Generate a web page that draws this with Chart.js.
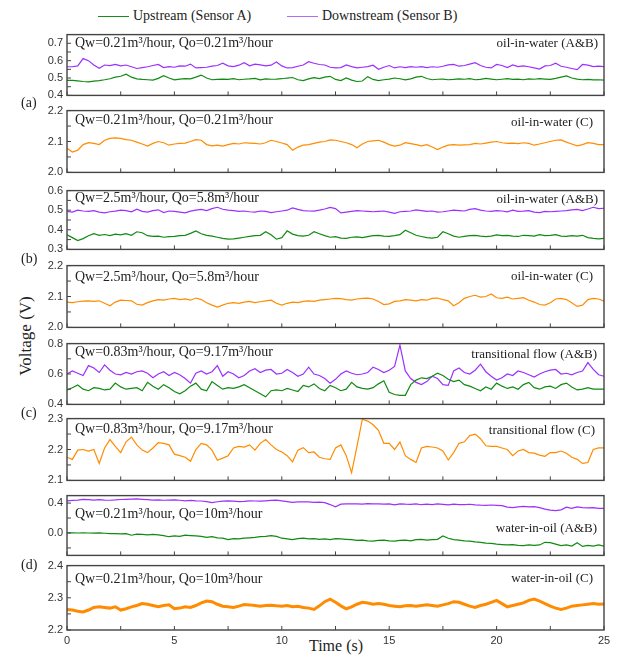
<!DOCTYPE html>
<html>
<head>
<meta charset="utf-8">
<script src="https://cdn.jsdelivr.net/npm/chart.js@4.4.1/dist/chart.umd.min.js"></script>
<style>
  body { margin: 0; background: #fff; }
  #wrap { position: relative; width: 617px; height: 655px; overflow: hidden;
          font-family: "Liberation Serif", "Times New Roman", serif; color: #222; }
  #wrap canvas { position: absolute; left: 0; }
  .txt { position: absolute; white-space: nowrap; line-height: 1; transform: translateY(-50%); }
  .key { position: absolute; height: 0; border-top: 1.5px solid; }
</style>
</head>
<body>
<div id="wrap">
  <div class="key" style="left:98px;top:16px;width:31px;border-color:#1a8c1a"></div>
  <div class="txt" style="left:133px;top:16px;font-size:14px">Upstream (Sensor A)</div>
  <div class="key" style="left:287px;top:16px;width:31px;border-color:#b06cff"></div>
  <div class="txt" style="left:322px;top:16px;font-size:14px">Downstream (Sensor B)</div>
  <div class="txt" style="left:25px;top:336px;font-size:17px;transform:translate(-50%,-50%) rotate(-90deg)">Voltage (V)</div>
  <div class="txt" style="left:336px;top:646px;font-size:16px;transform:translate(-50%,-50%)">Time (s)</div>
</div>
<script>
// ---- data (sampled every 0.25 s, 0..25 s) ----
const TIME = Array.from({ length: 101 }, (_, i) => i * 0.25);

// (a) oil-in-water, Qw=0.21, Qo=0.21
const upA_a = [
  .487,.486,.484,.48,.478,.482,.485,.49,.496,.505,
  .51,.522,.505,.495,.492,.49,.488,.498,.513,.50,
  .49,.494,.497,.495,.505,.517,.50,.49,.492,.494,
  .492,.496,.49,.493,.495,.498,.49,.495,.493,.494,
  .496,.50,.503,.49,.485,.495,.502,.497,.505,.51,
  .492,.485,.50,.488,.48,.483,.508,.492,.485,.49,
  .494,.50,.496,.49,.495,.505,.51,.497,.49,.493,
  .494,.49,.492,.495,.493,.496,.49,.492,.498,.494,
  .49,.493,.496,.492,.494,.49,.495,.493,.496,.494,
  .492,.498,.505,.512,.50,.494,.49,.492,.489,.49,
  .488];
const dnB_a = [
  .565,.565,.57,.612,.60,.575,.556,.575,.572,.578,
  .57,.575,.565,.555,.56,.565,.572,.578,.56,.566,
  .562,.57,.568,.58,.558,.56,.562,.568,.572,.585,
  .57,.566,.574,.588,.57,.58,.576,.57,.574,.592,
  .57,.558,.56,.568,.575,.594,.585,.578,.575,.562,
  .558,.56,.575,.566,.558,.562,.566,.574,.55,.562,
  .572,.558,.565,.56,.566,.562,.566,.56,.565,.562,
  .568,.576,.578,.568,.572,.58,.588,.572,.562,.558,
  .578,.572,.56,.575,.566,.57,.565,.558,.552,.57,
  .572,.585,.568,.562,.555,.548,.578,.574,.566,.568,
  .566];
const sensC_a = [
  2.078,2.066,2.072,2.09,2.096,2.094,2.09,2.104,2.11,2.112,
  2.11,2.106,2.104,2.098,2.092,2.085,2.094,2.1,2.096,2.088,
  2.092,2.094,2.095,2.1,2.106,2.104,2.09,2.086,2.088,2.085,
  2.09,2.094,2.092,2.096,2.095,2.094,2.092,2.096,2.104,2.1,
  2.095,2.09,2.072,2.082,2.088,2.09,2.094,2.098,2.1,2.105,
  2.104,2.1,2.096,2.09,2.08,2.092,2.1,2.102,2.104,2.098,
  2.09,2.085,2.088,2.096,2.093,2.09,2.086,2.09,2.082,2.074,
  2.082,2.088,2.09,2.088,2.089,2.09,2.094,2.092,2.095,2.098,
  2.1,2.096,2.094,2.095,2.093,2.096,2.094,2.088,2.092,2.096,
  2.1,2.104,2.105,2.098,2.092,2.086,2.09,2.096,2.094,2.09,
  2.09];

// (b) oil-in-water, Qw=2.5, Qo=5.8
const upA_b = [
  .375,.36,.345,.355,.37,.38,.372,.376,.37,.378,
  .374,.38,.372,.39,.385,.37,.366,.368,.362,.365,
  .366,.37,.372,.382,.394,.38,.372,.368,.362,.356,
  .352,.354,.358,.362,.366,.37,.372,.39,.375,.352,
  .36,.395,.378,.37,.368,.372,.39,.38,.37,.362,
  .365,.358,.356,.362,.364,.36,.365,.37,.372,.368,
  .366,.37,.375,.398,.385,.372,.366,.36,.358,.362,
  .39,.38,.368,.362,.366,.37,.372,.368,.365,.368,
  .374,.37,.372,.368,.366,.372,.37,.368,.375,.37,
  .372,.375,.368,.366,.37,.368,.372,.36,.356,.354,
  .356];
const dnB_b = [
  .494,.49,.50,.496,.494,.498,.49,.486,.492,.495,
  .50,.498,.492,.505,.494,.49,.498,.502,.488,.496,
  .494,.49,.486,.495,.50,.504,.498,.508,.515,.505,
  .50,.498,.494,.496,.492,.49,.496,.494,.488,.492,
  .496,.50,.512,.504,.498,.496,.495,.50,.506,.514,
  .508,.486,.49,.494,.498,.496,.494,.492,.494,.496,
  .49,.484,.492,.494,.496,.502,.498,.494,.496,.49,
  .492,.496,.50,.498,.496,.504,.508,.50,.496,.494,
  .498,.496,.492,.50,.494,.495,.498,.49,.488,.494,
  .492,.494,.496,.498,.502,.504,.498,.506,.515,.508,
  .51];
const sensC_b = [
  2.082,2.08,2.083,2.085,2.086,2.084,2.086,2.078,2.07,2.082,
  2.088,2.087,2.086,2.075,2.072,2.08,2.086,2.09,2.088,2.092,
  2.094,2.09,2.092,2.088,2.095,2.09,2.08,2.072,2.066,2.072,
  2.078,2.08,2.078,2.082,2.084,2.08,2.083,2.086,2.088,2.078,
  2.072,2.078,2.082,2.08,2.084,2.086,2.084,2.088,2.09,2.092,
  2.094,2.093,2.09,2.088,2.092,2.094,2.095,2.092,2.084,2.074,
  2.076,2.084,2.086,2.09,2.088,2.086,2.09,2.088,2.094,2.095,
  2.09,2.086,2.07,2.08,2.094,2.1,2.104,2.098,2.1,2.108,
  2.096,2.094,2.098,2.092,2.094,2.096,2.088,2.082,2.074,2.072,
  2.08,2.092,2.094,2.09,2.08,2.068,2.072,2.09,2.094,2.092,
  2.085];

// (c) transitional flow, Qw=0.83, Qo=9.17
const upA_c = [
  .495,.51,.528,.50,.49,.51,.505,.495,.50,.54,
  .515,.50,.505,.51,.49,.545,.52,.50,.53,.51,
  .485,.47,.49,.52,.54,.50,.49,.55,.525,.50,
  .51,.505,.515,.53,.51,.49,.47,.45,.49,.495,
  .49,.505,.495,.485,.525,.515,.535,.505,.49,.525,
  .51,.49,.50,.545,.515,.505,.50,.51,.535,.555,
  .48,.465,.46,.46,.53,.56,.575,.57,.585,.605,
  .59,.565,.55,.56,.53,.52,.505,.49,.515,.50,
  .54,.52,.505,.515,.50,.53,.545,.51,.50,.515,
  .52,.505,.53,.54,.515,.495,.50,.51,.50,.50,
  .50];
const dnB_c = [
  .60,.62,.605,.59,.655,.64,.61,.66,.625,.60,
  .595,.61,.60,.615,.62,.605,.575,.60,.615,.59,
  .61,.595,.57,.54,.605,.62,.60,.615,.655,.585,
  .615,.60,.575,.59,.62,.635,.61,.625,.63,.60,
  .605,.63,.61,.585,.60,.645,.60,.59,.57,.54,
  .565,.60,.62,.605,.595,.60,.61,.645,.63,.61,
  .625,.65,.79,.62,.57,.545,.53,.55,.585,.57,
  .53,.525,.62,.64,.61,.60,.625,.665,.615,.585,
  .56,.575,.60,.59,.62,.61,.595,.58,.60,.615,
  .625,.63,.60,.605,.595,.61,.62,.675,.63,.595,
  .585];
const sensC_c = [
  2.175,2.168,2.198,2.2,2.195,2.2,2.155,2.205,2.232,2.21,
  2.19,2.225,2.24,2.215,2.198,2.19,2.205,2.222,2.22,2.215,
  2.185,2.18,2.175,2.162,2.2,2.22,2.215,2.198,2.165,2.172,
  2.18,2.205,2.21,2.208,2.215,2.198,2.22,2.232,2.215,2.2,
  2.192,2.18,2.16,2.198,2.206,2.19,2.192,2.175,2.17,2.168,
  2.205,2.215,2.18,2.125,2.21,2.298,2.292,2.28,2.262,2.22,
  2.22,2.2,2.224,2.18,2.168,2.158,2.205,2.21,2.208,2.205,
  2.195,2.166,2.19,2.22,2.225,2.245,2.25,2.235,2.212,2.21,
  2.21,2.205,2.2,2.18,2.195,2.2,2.19,2.188,2.182,2.178,
  2.19,2.19,2.195,2.188,2.175,2.168,2.155,2.158,2.2,2.205,
  2.205];

// (d) water-in-oil, Qw=0.21, Qo=10
const upA_d = [
  .0,.002,.0,.003,.0,-.002,.0,-.004,-.008,-.01,
  -.012,-.01,-.03,-.015,-.02,-.025,-.018,-.025,-.035,-.05,
  -.04,-.045,-.03,-.035,-.04,-.045,-.06,-.05,-.065,-.07,
  -.09,-.075,-.08,-.07,-.065,-.06,-.05,-.045,-.035,-.045,
  -.07,-.08,-.09,-.075,-.07,-.08,-.075,-.085,-.08,-.09,
  -.075,-.08,-.085,-.09,-.1,-.095,-.105,-.11,-.1,-.095,
  -.105,-.11,-.1,-.095,-.105,-.09,-.085,-.095,-.09,-.085,
  -.04,-.07,-.09,-.095,-.105,-.11,-.12,-.125,-.135,-.14,
  -.15,-.155,-.16,-.155,-.165,-.17,-.16,-.165,-.16,-.125,
  -.13,-.15,-.17,-.16,-.175,-.13,-.18,-.165,-.175,-.16,
  -.175];
const dnB_d = [
  .43,.435,.44,.45,.445,.44,.445,.44,.438,.442,
  .448,.45,.452,.455,.45,.445,.44,.442,.438,.44,
  .442,.438,.43,.435,.43,.428,.42,.405,.418,.425,
  .43,.425,.42,.422,.43,.428,.425,.43,.436,.44,
  .43,.42,.41,.415,.418,.415,.41,.412,.405,.38,
  .35,.385,.39,.388,.39,.385,.392,.39,.388,.385,
  .388,.375,.39,.385,.382,.39,.378,.385,.38,.388,
  .382,.375,.385,.38,.378,.384,.376,.372,.37,.374,
  .37,.365,.345,.34,.35,.355,.35,.352,.34,.32,
  .305,.30,.31,.345,.33,.35,.34,.335,.34,.33,
  .33];
const sensC_d = [
  2.264,2.262,2.258,2.256,2.262,2.27,2.272,2.27,2.268,2.272,
  2.262,2.266,2.272,2.276,2.282,2.28,2.276,2.272,2.276,2.278,
  2.266,2.268,2.272,2.27,2.276,2.284,2.29,2.288,2.28,2.274,
  2.272,2.27,2.274,2.279,2.278,2.276,2.274,2.276,2.277,2.275,
  2.274,2.276,2.272,2.274,2.27,2.268,2.264,2.275,2.288,2.296,
  2.286,2.275,2.266,2.272,2.28,2.286,2.284,2.28,2.282,2.28,
  2.276,2.274,2.272,2.275,2.276,2.274,2.276,2.278,2.276,2.274,
  2.278,2.282,2.288,2.286,2.28,2.274,2.27,2.276,2.28,2.286,
  2.292,2.282,2.272,2.276,2.28,2.284,2.292,2.296,2.29,2.282,
  2.274,2.268,2.264,2.268,2.274,2.276,2.278,2.28,2.282,2.28,
  2.281];

// tick labels
const xTicks = [0, 5, 10, 15, 20, 25];
const xMarks = [0, 2.5, 5, 7.5, 10, 12.5, 15, 17.5, 20, 22.5, 25];
const yTicks = [
  [0.4, 0.5, 0.6, 0.7], [2.0, 2.1, 2.2],
  [0.3, 0.4, 0.5, 0.6], [2.0, 2.1, 2.2],
  [0.4, 0.6, 0.8],      [2.1, 2.2, 2.3],
  [0.0, 0.4],           [2.2, 2.3, 2.4]
];
const yMinor = [
  [0.45, 0.55, 0.65], [2.05, 2.15],
  [0.35, 0.45, 0.55], [2.05, 2.15],
  [0.5, 0.7],         [2.15, 2.25],
  [-0.2, 0.2],        [2.25, 2.35]
];
const flowText = [
  "Qw=0.21m³/hour, Qo=0.21m³/hour", "Qw=0.21m³/hour, Qo=0.21m³/hour",
  "Qw=2.5m³/hour, Qo=5.8m³/hour", "Qw=2.5m³/hour, Qo=5.8m³/hour",
  "Qw=0.83m³/hour, Qo=9.17m³/hour", "Qw=0.83m³/hour, Qo=9.17m³/hour",
  "Qw=0.21m³/hour, Qo=10m³/hour", "Qw=0.21m³/hour, Qo=10m³/hour"
];
const regimeText = [
  "oil-in-water (A&B)", "oil-in-water (C)",
  "oil-in-water (A&B)", "oil-in-water (C)",
  "transitional flow (A&B)", "transitional flow (C)",
  "water-in-oil (A&B)", "water-in-oil (C)"
];
const groupText = ["(a)", "(b)", "(c)", "(d)"];

// ---- layout / style ----
const GREEN = "#118a11", PURPLE = "#9b30ff", ORANGE = "#ff8c00";
const panels = [
  { top: 32,  bottom: 98,  min: 0.4, max: 0.75, lines: [[upA_a, GREEN], [dnB_a, PURPLE]], q: 11, r: 10, rr: 598 },
  { top: 108, bottom: 175, min: 2.0, max: 2.2,  lines: [[sensC_a, ORANGE]], q: 12, r: 13, rr: 593 },
  { top: 188, bottom: 252, min: 0.3, max: 0.6,  lines: [[upA_b, GREEN], [dnB_b, PURPLE]], q: 10, r: 10, rr: 598 },
  { top: 263, bottom: 330, min: 2.0, max: 2.2,  lines: [[sensC_b, ORANGE]], q: 14, r: 12, rr: 593 },
  { top: 341, bottom: 407, min: 0.4, max: 0.8,  lines: [[upA_c, GREEN], [dnB_c, PURPLE]], q: 11, r: 12, rr: 597 },
  { top: 416, bottom: 483, min: 2.1, max: 2.3,  lines: [[sensC_c, ORANGE]], q: 13, r: 13, rr: 595 },
  { top: 493, bottom: 558, min: -0.3, max: 0.5, lines: [[upA_d, GREEN], [dnB_d, PURPLE]], q: 21, r: 34, rr: 597 },
  { top: 563, bottom: 630, min: 2.2, max: 2.4,  lines: [[sensC_d, ORANGE]], q: 16, r: 14, rr: 593, width: 3 }
];
const groupY = [103, 259, 413, 565];

Chart.defaults.font.family = '"Liberation Sans", Arial, sans-serif';
Chart.defaults.font.size = 11;
Chart.defaults.color = "#333";

// box round the plot area and short inward tick marks
const framePlugin = {
  id: "frame",
  afterDraw(chart, args, opts) {
    const { ctx, chartArea: a, scales } = chart;
    ctx.save();
    ctx.strokeStyle = "#444";
    ctx.lineWidth = 1;
    ctx.beginPath();
    xMarks.forEach((v) => {
      const x = scales.x.getPixelForValue(v);
      ctx.moveTo(x, a.bottom); ctx.lineTo(x, a.bottom - 4);
    });
    opts.marks.forEach((v) => {
      const y = scales.y.getPixelForValue(v);
      ctx.moveTo(a.left, y); ctx.lineTo(a.left + 4, y);
    });
    ctx.stroke();
    ctx.lineWidth = 1.4;
    ctx.strokeRect(a.left, a.top, a.right - a.left, a.bottom - a.top);
    ctx.restore();
  }
};

const wrap = document.getElementById("wrap");

function addText(str, css) {
  const d = document.createElement("div");
  d.className = "txt";
  d.textContent = str;
  Object.assign(d.style, css);
  wrap.appendChild(d);
}

panels.forEach((p, i) => {
  const last = i === panels.length - 1;
  const padTop = 8, padBottom = last ? 2 : 8, xHeight = last ? 15 : 0;
  const canvas = document.createElement("canvas");
  canvas.width = 617;
  canvas.height = (p.bottom - p.top) + padTop + padBottom + xHeight;
  canvas.style.top = (p.top - padTop) + "px";
  wrap.appendChild(canvas);

  new Chart(canvas, {
    type: "line",
    data: {
      datasets: p.lines.map(([vals, color]) => ({
        data: TIME.map((t, k) => ({ x: t, y: vals[k] })),
        borderColor: color,
        borderWidth: p.width || 1.2,
        pointRadius: 0,
        tension: 0,
        fill: false
      }))
    },
    options: {
      responsive: false,
      animation: false,
      events: [],
      layout: { padding: { top: padTop, bottom: padBottom, left: 0, right: 13 } },
      plugins: {
        legend: { display: false },
        tooltip: { enabled: false },
        frame: { marks: yTicks[i].concat(yMinor[i]) }
      },
      scales: {
        x: {
          type: "linear",
          min: 0,
          max: 25,
          display: last,
          grid: { display: false, drawTicks: false },
          border: { display: false },
          ticks: { padding: 4, maxRotation: 0, callback: (v) => v },
          afterBuildTicks: (axis) => { axis.ticks = xTicks.map((v) => ({ value: v })); },
          afterFit: (axis) => { axis.height = xHeight; }
        },
        y: {
          min: p.min,
          max: p.max,
          grid: { display: false, drawTicks: false },
          border: { display: false },
          ticks: { padding: 4, callback: (v) => Number(v).toFixed(1) },
          afterBuildTicks: (axis) => { axis.ticks = yTicks[i].map((v) => ({ value: v })); },
          afterFit: (axis) => { axis.width = 67; }
        }
      }
    },
    plugins: [framePlugin]
  });

  addText(flowText[i], { left: "75px", top: (p.top + p.q) + "px", fontSize: "14px" });
  addText(regimeText[i], { right: (617 - p.rr) + "px", top: (p.top + p.r) + "px", fontSize: "13px" });
});

groupText.forEach((g, k) => {
  addText(g, { left: "21px", top: groupY[k] + "px", fontSize: "14px" });
});
</script>
</body>
</html>
